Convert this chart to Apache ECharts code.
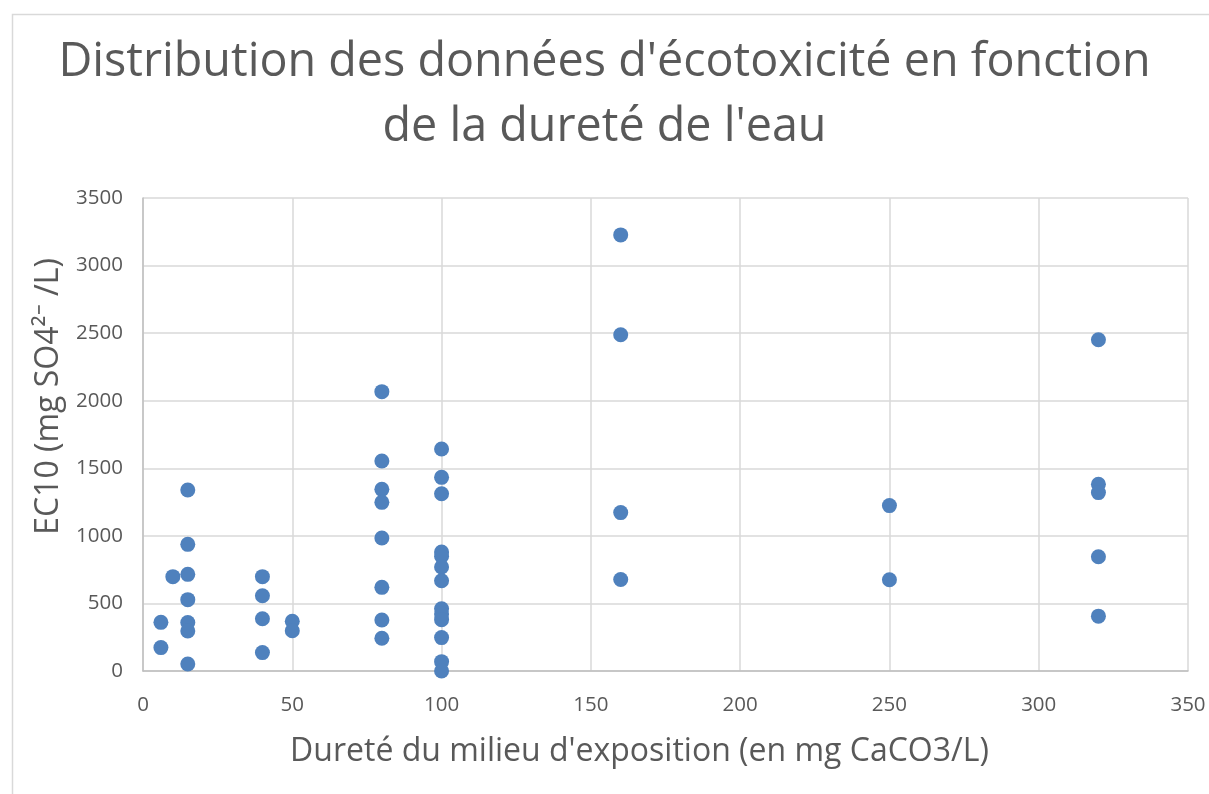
<!DOCTYPE html>
<html>
<head>
<meta charset="utf-8">
<script src="https://cdn.jsdelivr.net/npm/echarts@6/dist/echarts.min.js"></script>
<style>
html,body{margin:0;padding:0;background:#fff;}
#chart{width:1209px;height:794px;}
</style>
</head>
<body>
<div id="chart"></div>
<script>
const hardness = [6, 6, 10, 15, 15, 15, 15, 15, 15, 15, 40, 40, 40, 40, 50, 50,
  80, 80, 80, 80, 80, 80, 80, 80,
  100, 100, 100, 100, 100, 100, 100, 100, 100, 100, 100, 100, 100,
  160, 160, 160, 160, 250, 250, 320, 320, 320, 320, 320];
const ec10 = [360, 173, 698, 1339, 937, 715, 528, 358, 296, 52, 698, 557, 387, 136, 368, 298,
  2067, 1554, 1344, 1248, 984, 619, 377, 242,
  1643, 1433, 1312, 880, 850, 770, 668, 461, 422, 380, 247, 69, 0,
  3227, 2488, 1172, 677, 1224, 675, 2451, 1382, 1320, 845, 406];
const xTicks = [0, 50, 100, 150, 200, 250, 300, 350];
const yTicks = [0, 500, 1000, 1500, 2000, 2500, 3000, 3500];
const titleText = "Distribution des données d'écotoxicité en fonction\nde la dureté de l'eau";
const xName = "Dureté du milieu d'exposition (en mg CaCO3/L)";
const yName = "EC10 (mg SO4²⁻ /L)";

const points = hardness.map((h, i) => [h, ec10[i]]);
const chart = echarts.init(document.getElementById('chart'), null, {renderer: 'canvas'});
const font = "'Open Sans', sans-serif";
chart.setOption({
  animation: false,
  backgroundColor: '#fff',
  title: {
    text: titleText,
    left: 'center',
    top: 25,
    textStyle: {fontFamily: font, fontSize: 46.7, fontWeight: 'normal', color: '#595959', lineHeight: 65}
  },
  graphic: [{
    type: 'rect', left: 10, top: 12, shape: {width: 1220, height: 800},
    style: {fill: 'none', stroke: '#D9D9D9', lineWidth: 1.5}, silent: true
  }],
  grid: {left: 143, top: 198, right: 21, bottom: 123},
  xAxis: {
    type: 'value', min: xTicks[0], max: xTicks[xTicks.length - 1], interval: 50,
    name: xName, nameLocation: 'middle', nameGap: 65,
    nameTextStyle: {fontFamily: font, fontSize: 32, color: '#595959', padding: [0, 52, 0, 0]},
    axisLine: {show: true, lineStyle: {color: '#BFBFBF', width: 1.5}},
    axisTick: {show: false},
    axisLabel: {fontFamily: font, fontSize: 20.5, color: '#595959', margin: 24, formatter: v => String(v)},
    splitLine: {show: true, lineStyle: {color: '#D9D9D9', width: 1.5}}
  },
  yAxis: {
    type: 'value', min: yTicks[0], max: yTicks[yTicks.length - 1], interval: 500,
    name: yName, nameLocation: 'middle', nameGap: 75, nameRotate: 90,
    nameTextStyle: {fontFamily: font, fontSize: 32, color: '#595959', padding: [0, 0, 0, 76]},
    axisLine: {show: true, lineStyle: {color: '#BFBFBF', width: 1.5}},
    axisTick: {show: false},
    axisLabel: {fontFamily: font, fontSize: 20.5, color: '#595959', margin: 20, formatter: v => String(v)},
    splitLine: {show: true, lineStyle: {color: '#D9D9D9', width: 1.5}}
  },
  series: [{
    type: 'scatter',
    data: points,
    symbol: 'circle',
    symbolSize: 15,
    itemStyle: {color: '#4F81BD', opacity: 1}
  }]
});
</script>
</body>
</html>
